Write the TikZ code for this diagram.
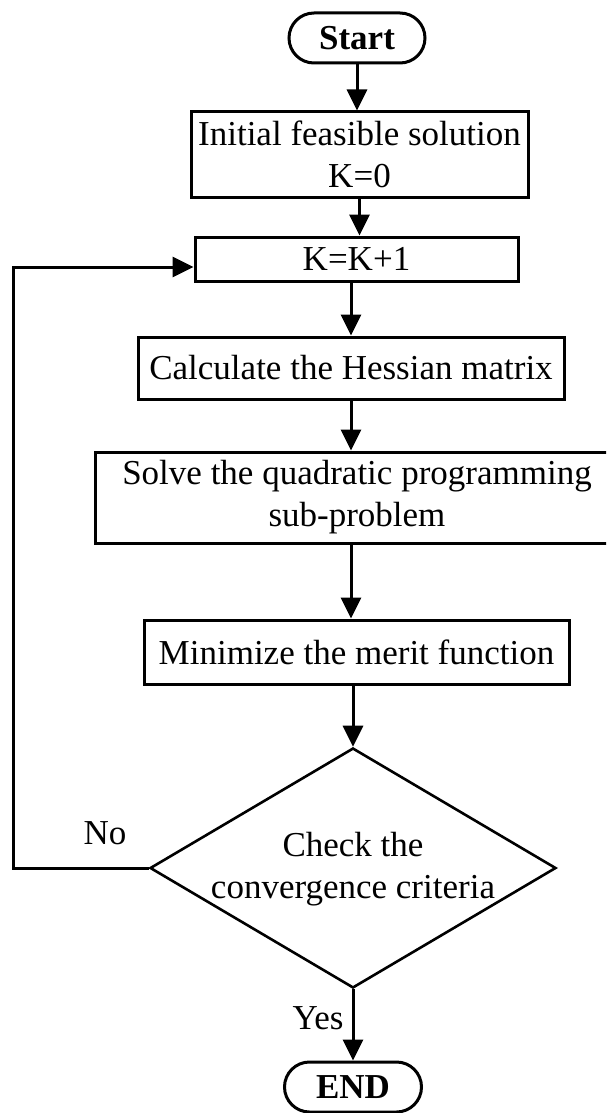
\documentclass[tikz,border=0pt]{standalone}
\usepackage{fontspec}
\setmainfont{Liberation Serif}
\usetikzlibrary{arrows.meta,shapes.geometric,calc}
\begin{document}
\begin{tikzpicture}[x=1pt,y=-1pt,
  every node/.style={font=\fontsize{35}{42}\selectfont},
  box/.style={draw, line width=3pt, inner sep=0pt, align=center},
  term/.style={box, rounded corners=25pt, font=\fontsize{35}{42}\selectfont\bfseries},
  arr/.style={line width=3pt, -{Triangle[length=21pt,width=20pt]}},
  lbl/.style={inner sep=0pt}]
\useasboundingbox (0,0) rectangle (606,1113);
\clip (0,0) rectangle (606,1113);

% process steps
\node[term, minimum width=136pt, minimum height=50pt] (start) at (357,38) {Start};
\node[box, minimum width=337pt, minimum height=85pt] (init) at (359.5,154.5) {Initial feasible solution\\K=0};
\node[box, minimum width=323pt, minimum height=44pt] (kinc) at (356.5,259) {K=K+1};
\node[box, minimum width=426pt, minimum height=62pt] (hess) at (351,368) {Calculate the Hessian matrix};
\node[box, minimum width=524pt, minimum height=91pt] (solve) at (357,497.5) {Solve the quadratic programming\\sub-problem};
\node[box, minimum width=425pt, minimum height=64pt] (mini) at (356.5,652) {Minimize the merit function};

% decision
\node[draw, diamond, line width=2.6pt, minimum width=406pt, minimum height=240pt, inner sep=0pt] (check) at (353,868) {};
\node[align=center, inner sep=0pt] (checktxt) at (353,869) {Check the\\convergence criteria};

\node[term, minimum width=137pt, minimum height=50pt] (end) at (353,1087) {END};

% connectors
\draw[arr] (start.south) -- (start.south |- init.north);
\draw[arr] (init.south) -- (init.south |- kinc.north);
\draw[arr] (hess.north |- kinc.south) -- (hess.north);
\draw[arr] (hess.south) -- (hess.south |- solve.north);
\draw[arr] (solve.south -| hess.south) -- (mini.north -| hess.south);
\draw[arr] (check.north |- mini.south) -- (check.north);
\draw[arr] (check.south) -- (end.north);

% loop back when not converged
\coordinate (corner) at (13,868);
\draw[arr] (check.west) -- (corner) |- ($(kinc.west)+(0,8)$);

% branch labels
\node[lbl] (no) at (105,833) {No};
\node[lbl] (yes) at (318,1018) {Yes};
\end{tikzpicture}
\end{document}
